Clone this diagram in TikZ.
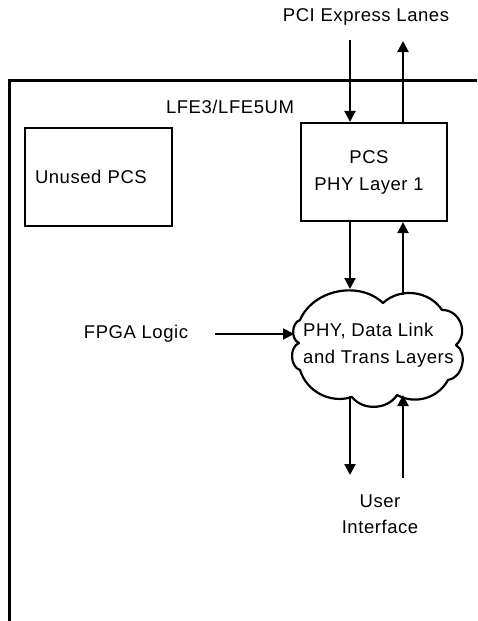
\documentclass[tikz,border=0pt]{standalone}
\usepackage{fontspec}
\setmainfont{Liberation Sans}[LetterSpace=3]
\usetikzlibrary{arrows.meta}
\tikzset{
  lbl/.style={font=\fontsize{18.5}{27}\selectfont, inner sep=0pt, align=center},
  blk/.style={draw, line width=2.2pt, font=\fontsize{18.5}{27}\selectfont, inner sep=0pt},
  arr/.style={line width=2.2pt, -{Triangle[width=11pt,length=11pt]}},
  frame/.style={line width=2.2pt},
  cloudline/.style={line width=2.2pt, line join=round},
}
\begin{document}
\begin{tikzpicture}[x=1pt,y=-1pt]
\useasboundingbox (0,0) rectangle (477,621);
% chip frame
\draw[frame] (9.5,621) -- (9.5,80.5) -- (477,80.5);
% labels
\node[lbl] (lanes) at (366,17) {PCI Express Lanes};
\node[lbl] (chip) at (230,107) {LFE3/LFE5UM};
\node[lbl] (fpga) at (136,334) {FPGA Logic};
\node[lbl, font=\fontsize{18.5}{26}\selectfont] (user) at (380,514) {User\\Interface};
% blocks
\node[blk, minimum width=147pt, minimum height=98pt, text width=127pt, align=left, inner xsep=10pt] (unused) at (98.5,177) {Unused PCS};
\node[blk, minimum width=146pt, minimum height=98pt, align=center] (pcs) at (374,172) {\hspace*{-10pt}PCS\\\hspace*{-10pt}PHY Layer 1};
% cloud outline
\coordinate (n1) at (300,320);
\coordinate (n2) at (383,303);
\coordinate (n3) at (442,310);
\coordinate (n4) at (456,345);
\coordinate (n5) at (448,380);
\coordinate (n6) at (397,395);
\coordinate (n7) at (352,397);
\coordinate (n8) at (300,370);
\coordinate (n9) at (299,343);
\draw[cloudline, fill=white] (n1) to[bend left=55] (n2) to[bend left=50] (n3)
  to[bend left=70, looseness=1.2] (n4) to[bend left=70, looseness=1.05] (n5)
  to[bend left=45] (n6) to[bend left=55] (n7) to[bend left=45] (n8)
  to[bend left=70] (n9) to[bend left=70] (n1) -- cycle;
\node[lbl, align=left, anchor=west] (cloudtxt) at (303,345) {PHY, Data Link\\and Trans Layers};
% connector end points
\coordinate (tin) at (350,40);
\coordinate (tout) at (403,41);
\coordinate (cin) at (350,289);
\coordinate (cout) at (403,295);
\coordinate (cleft) at (294,334);
\coordinate (bout) at (350,396);
\coordinate (bin) at (403,395);
\coordinate (uin) at (350,475);
\coordinate (uout) at (403,478);
% connectors
\draw[arr] (tin) -- (tin |- pcs.north);
\draw[arr] (tout |- pcs.north) -- (tout);
\draw[arr] (tin |- pcs.south) -- (cin);
\draw[arr] (cout) -- (tout |- pcs.south);
\draw[arr] ([xshift=27pt]fpga.east) -- (cleft);
\draw[arr] (bout) -- (uin);
\draw[arr] (uout) -- (bin);
\end{tikzpicture}
\end{document}
